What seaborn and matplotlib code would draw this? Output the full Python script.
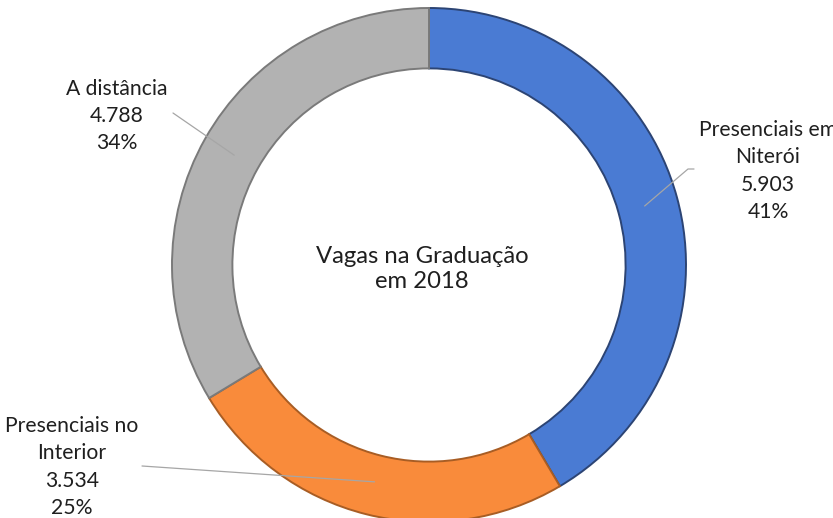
import matplotlib.pyplot as plt
import numpy as np
import seaborn as sns

sns.set_theme(style="white")
plt.rcParams["font.family"] = ["Lato", "DejaVu Sans"]

categories = ["Presenciais em\nNiterói", "Presenciais no\nInterior", "A distância"]
values = [5903, 3534, 4788]
value_labels = ["5.903", "3.534", "4.788"]
colors = ["#4a7bd3", "#f98b3b", "#b2b2b2"]
edge_colors = ["#2c4474", "#a85d24", "#7a7a7a"]

# label anchor positions (pixels, y measured from top) and text for the centre
label_pos = [(768, 171), (72, 467), (117, 116)]
line_text_end = [(694, 169), (142, 466), (173, 113)]
center_title = "Vagas na Graduação\nem 2018"

W, H = 833, 518
cx, cy, R = 429, H - 265, 257

fig = plt.figure(figsize=(W / 100, H / 100), dpi=100)
ax = fig.add_axes([0, 0, 1, 1])

wedges, _ = ax.pie(values, colors=colors, startangle=90, counterclock=False,
                   center=(cx, cy), radius=R, frame=True,
                   wedgeprops=dict(width=R * 0.235, linewidth=1.4))
for w, ec in zip(wedges, edge_colors):
    w.set_edgecolor(ec)
ax.set_xlim(0, W)
ax.set_ylim(0, H)
ax.set_aspect("equal")
ax.axis("off")

total = sum(values)
for w, cat, vl, v, (lx, ly), (tx, ty) in zip(wedges, categories, value_labels, values,
                                            label_pos, line_text_end):
    mid = np.deg2rad((w.theta1 + w.theta2) / 2)
    px, py = cx + 0.87 * R * np.cos(mid), cy + 0.87 * R * np.sin(mid)
    if tx > cx:
        ax.plot([tx, tx - 6, px], [H - ty, H - ty, py], color="#a6a6a6", lw=0.9)
    else:
        ax.plot([tx, px], [H - ty, py], color="#a6a6a6", lw=0.9)
    pct = f"{round(100 * v / total)}%"
    ax.text(lx, H - ly, f"{cat}\n{vl}\n{pct}", ha="center", va="center",
            fontsize=15.2, color="#1f1f1f", linespacing=1.45)

ax.text(cx - 7, cy - 4, center_title, ha="center", va="center", fontsize=17.2,
        color="#1f1f1f", linespacing=1.25)

fig.savefig("out.png", dpi=100)
